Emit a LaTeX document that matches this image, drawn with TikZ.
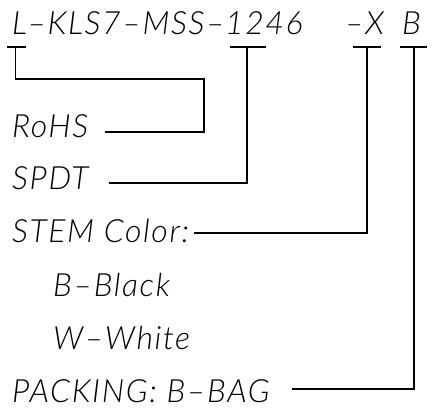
\documentclass[tikz,border=0pt]{standalone}
\usepackage{fontspec}
\setmainfont{Lato}[UprightFont=* Light, ItalicFont=* Light Italic, LetterSpace=5]
\usetikzlibrary{positioning}
\begin{document}
\begin{tikzpicture}[x=1pt,y=-1pt,
    lbl/.style={anchor=base west, inner sep=0pt, font=\fontsize{32}{38}\selectfont\itshape},
    lead/.style={line width=1.6pt}]
\useasboundingbox (0,0) rectangle (439,414);

\node[lbl] (pL) at (12,35) {L};
\node[lbl, right=0pt of pL.base east, anchor=base west] (pMid) {–KLS7–MSS–};
\node[lbl, right=0pt of pMid.base east, anchor=base west] (pNum) {1246};
\node[lbl] (pX) at (345,35) {–X};
\node[lbl] (pB) at (402,35) {B};

\node[lbl] (rohs) at (12,138) {RoHS};
\node[lbl] (spdt) at (12,190) {SPDT};
\node[lbl] (stem) at (12,243) {STEM Color:};
\node[lbl] (black) at (53,296) {B–Black};
\node[lbl] (white) at (53,349) {W–White};
\node[lbl] (pack) at (12,402) {PACKING: B–BAG};

\coordinate (tL) at (15.5,47);
\coordinate (tN) at (247,47);
\coordinate (tX) at (367,47);
\coordinate (tB) at (414,47);
\foreach \t/\a/\b in {tL/9/10, tN/17/19, tX/14/14, tB/14/13}
    \draw[lead] ([xshift=-\a pt]\t) -- ([xshift=\b pt]\t);

\draw[lead] ([shift={(16,-6)}]rohs.base east) -| (204,79) -| (tL);
\draw[lead] ([shift={(20,-7)}]spdt.base east) -| (tN);
\draw[lead] ([shift={(5,-10)}]stem.base east) -| (tX);
\draw[lead] ([shift={(22,-13)}]pack.base east) -| (tB);
\end{tikzpicture}
\end{document}
